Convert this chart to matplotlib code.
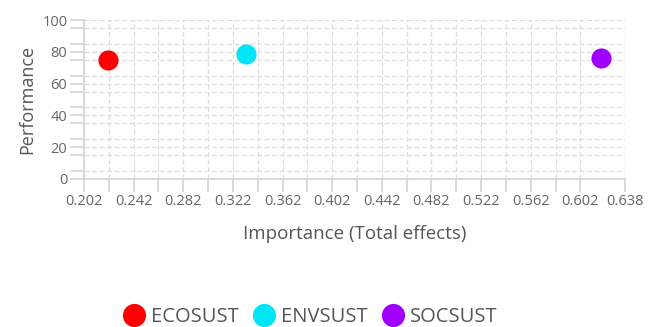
import matplotlib
matplotlib.use("Agg")
import matplotlib.pyplot as plt
import numpy as np

categories = ["ECOSUST", "ENVSUST", "SOCSUST"]
importance = [0.2213, 0.3328, 0.6183]
performance = [74.7, 78.4, 76.3]
colors = ["#FF0000", "#00E5F5", "#A000FF"]
xtick_labels = ["0.202", "0.242", "0.282", "0.322", "0.362", "0.402", "0.442",
                "0.482", "0.522", "0.562", "0.602", "0.638"]
ytick_labels = ["0", "20", "40", "60", "80", "100"]

plt.rcParams['font.family'] = ['Open Sans', 'DejaVu Sans']
fig = plt.figure(figsize=(6.48, 3.27), dpi=100)
ax = fig.add_axes([0.1296, 0.4526, 0.835, 0.4862])

for c, x, y, col in zip(categories, importance, performance, colors):
    ax.scatter([x], [y], s=210, color=col, label=c, zorder=3, linewidths=0)

xmin, xmax = 0.202, 0.638
ax.set_xlim(xmin, xmax)
ax.set_ylim(0, 100)

xmajor = [float(v) for v in xtick_labels]
ax.set_xticks(xmajor)
ax.set_xticklabels(xtick_labels)
xminor = [round(xmin + 0.02 + 0.04 * i, 3) for i in range(10)]
xminor = [v for v in xminor if v < xmax]
ax.set_xticks(xminor, minor=True)
ax.set_yticks([float(v) for v in ytick_labels])
ax.set_yticklabels(ytick_labels)
ax.set_yticks(np.arange(5, 100, 10), minor=True)

gc = "#d4d4d4"
ax.grid(True, which='both', color="#dedede", linestyle=(0, (4, 2)), linewidth=0.9, zorder=0)
for s in ['top', 'right']:
    ax.spines[s].set_visible(False)
for s in ['left', 'bottom']:
    ax.spines[s].set_color(gc)
    ax.spines[s].set_linewidth(1.2)

ax.tick_params(axis='both', which='both', colors=gc, labelcolor="#666666",
               labelsize=10.5, length=10, width=1.2)
ax.tick_params(axis='x', which='both', length=9, pad=2)
ax.tick_params(axis='y', which='both', pad=2)

ax.set_xlabel("Importance (Total effects)", fontsize=13.5, color="#555555", labelpad=11)
ax.set_ylabel("Performance", fontsize=13, color="#555555", labelpad=4)

leg = fig.legend(loc='center', bbox_to_anchor=(0.48, 0.03), ncol=3, frameon=False,
                 fontsize=14.5, handletextpad=0.35, columnspacing=0.75,
                 markerscale=1.15, scatteryoffsets=[0.5], handlelength=1.0)
for t in leg.get_texts():
    t.set_color("#555555")

fig.savefig("out.png", dpi=100)
